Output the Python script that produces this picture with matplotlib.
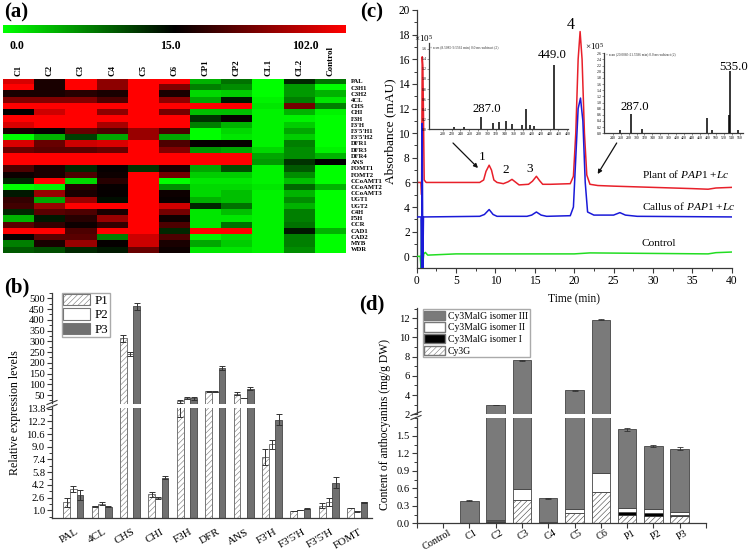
import matplotlib
matplotlib.use("Agg")
import matplotlib.pyplot as plt
from matplotlib.cm import ScalarMappable
from matplotlib.colors import LinearSegmentedColormap, Normalize
from matplotlib.lines import Line2D
from matplotlib.patches import FancyArrowPatch, Patch
from matplotlib.ticker import AutoMinorLocator, MultipleLocator
from matplotlib.transforms import ScaledTranslation

plt.rcParams["font.family"] = ["Liberation Serif", "DejaVu Serif"]
plt.rcParams["mathtext.fontset"] = "custom"
plt.rcParams["mathtext.it"] = "Liberation Serif:italic"
plt.rcParams["mathtext.rm"] = "Liberation Serif"
plt.rcParams["hatch.linewidth"] = 0.4
plt.rcParams["hatch.color"] = "#777777"

W, H = 750, 551
AXC = "#3a3a3a"

# (a) heatmap, -1 green .. 0 black .. 1 red
heat_cols = ["C1", "C2", "C3", "C4", "C5", "C6", "CP1", "CP2", "CL1", "CL2", "Control"]
heat_rows = ["PAL", "C3H1", "C3H2", "4CL", "CHS", "CHI", "F3H", "F3'H", "F3'5'H1", "F3'5'H2",
             "DFR1", "DFR3", "DFR4", "ANS", "FOMT1", "FOMT2", "CCoAMT1", "CCoAMT2", "CCoAMT3",
             "UGT1", "UGT2", "C4H", "F5H", "CCR", "CAD1", "CAD2", "MYB", "WDR"]
heat_vals = [
    [.85, .10, 1, .55, 1, 1, -.70, -.45, -1, -.15, -.45],
    [1, .10, 1, .55, 1, .50, -.50, -.55, -1, -.60, -1],
    [.10, .10, .15, .10, 1, .10, -.85, -.80, -1, -.60, -.70],
    [.50, .50, .50, .30, 1, .55, -.65, -.10, -.95, -.50, -.90],
    [1, 1, 1, 1, 1, 1, 1, 1, -.90, .45, -.50],
    [0, .80, 1, .55, 1, .45, -.75, -.75, -.95, -.70, -.95],
    [1, 1, 1, 1, 1, 1, -.20, .03, -.95, -.95, -1],
    [.85, 1, 1, .65, 1, 1, -.50, -.70, -.95, -.80, -1],
    [.10, .03, .40, .30, .60, .30, -1, -.85, -.95, -.65, -1],
    [-1, -.70, -.25, -.65, .60, -.65, -1, -.90, -.95, -.80, -1],
    [.85, .40, .80, .85, 1, .30, .02, .03, -.95, -.50, -1],
    [.40, .35, .35, .40, 1, .50, -.60, -.65, -.85, -.55, -.95],
    [1, 1, 1, 1, 1, 1, 1, 1, -.65, -.55, -.70],
    [1, 1, 1, 1, 1, 1, 1, 1, -.60, -.20, 0],
    [.30, .10, -.15, .03, -.20, .10, -.65, -.30, -.95, -.35, -1],
    [.05, .10, .30, .05, 1, .45, -.80, -.80, -.95, -.55, -1],
    [-.15, 1, -.85, .15, 1, -1, -.90, -.90, -.95, -.75, -1],
    [-1, -.95, .15, .03, 1, -.55, -.85, -.85, -.90, -.40, -.70],
    [-.10, .60, .10, .02, 1, .05, -.85, -.75, -.95, -.70, -1],
    [.20, -.65, .60, -.05, 1, .03, -.70, -.75, -.95, -.55, -1],
    [.25, .60, 1, 1, 1, .80, -.15, -.45, -.95, -.70, -1],
    [-.15, .35, .30, .10, 1, .45, -.90, -.75, -.95, -.50, -1],
    [-.70, -.10, .15, .60, 1, .05, -.90, -.90, -.95, -.50, -1],
    [.35, .20, .05, .20, 1, .30, -.90, -.45, -.95, -.45, -1],
    [1, 1, .30, 1, 1, -.15, 1, 1, -.95, -.10, -.70],
    [.03, .35, .35, -.50, .80, .30, -.95, -.85, -.95, -.50, -1],
    [-.50, .10, .60, .02, .80, .10, -.65, -.80, -.95, -.50, -1],
    [-.35, -.30, -.15, -.10, .40, .05, -.90, -.90, -.95, -.55, -1],
]
scale_labels = ["0.0", "15.0", "102.0"]

# (b) relative expression
genes = ["PAL", "4CL", "CHS", "CHI", "F3H", "DFR", "ANS", "F3'H", "F3'5'H", "F3'5'H", "FOMT"]
p1 = [2.0, 1.5, 313, 3.0, 20, 68, 56, 7.7, 0.9, 1.6, 1.3]
p2 = [3.7, 1.85, 240, 2.6, 35, 66, 36, 9.3, 1.05, 2.0, 0.85]
p3 = [2.9, 1.45, 463, 5.1, 36, 176, 80, 12.4, 1.2, 4.5, 2.0]
p1_err = [0.55, 0.08, 15, 0.35, 7.3, 2, 8, 1.0, 0.05, 0.3, 0.04]
p2_err = [0.4, 0.2, 10, 0.12, 4, 2, 2, 0.6, 0.03, 0.5, 0.05]
p3_err = [0.6, 0.08, 17, 0.2, 7, 10, 8, 0.7, 0.07, 0.7, 0.07]
b_low_ticks = [1.0, 2.6, 4.2, 5.8, 7.4, 9.0, 10.6, 12.2, 13.8]
b_high_ticks = [50, 100, 150, 200, 250, 300, 350, 400, 450, 500]
BREAK_B = 13.95

# (c) chromatograms
red_t = [0, .55, .62, .70, .78, .85, .95, 1.2, 4, 8, 8.5, 8.8, 9.2, 9.5, 9.8, 10.2, 11, 11.6, 12.1,
         12.6, 13, 14.2, 14.7, 15.2, 15.6, 16, 17, 19.5, 19.9, 20.2, 20.5, 20.75, 21, 21.3, 21.6,
         22, 23, 25, 30, 35, 37, 38, 40]
red_y = [6, 6, 5, 16.2, 15.5, 12, 6.2, 6, 6, 6, 6.2, 6.9, 7.4, 7.0, 6.2, 6, 5.9, 6.05, 6.25,
         6, 5.8, 5.85, 6.1, 6.5, 6.15, 5.85, 5.85, 5.9, 6.5, 10, 16, 18.25, 16, 10, 6.6,
         5.85, 5.75, 5.7, 5.6, 5.5, 5.45, 5.55, 5.6]
blue_t = [0, .55, .62, .70, .78, .86, 1, 8, 8.6, 9.2, 9.7, 10.2, 14, 14.6, 15.2, 15.8, 16.5, 19.5,
          19.9, 20.2, 20.5, 20.8, 21.1, 21.4, 21.7, 22.5, 25, 25.8, 26.5, 28, 40]
blue_y = [3.2, 3.2, -1, 10.8, -1, 3.2, 3.2, 3.25, 3.4, 3.8, 3.4, 3.25, 3.25, 3.35, 3.6, 3.35, 3.25, 3.3,
          4, 8, 12, 12.85, 11, 6, 3.6, 3.35, 3.35, 3.55, 3.35, 3.25, 3.2]
green_t = [0, .45, .55, .62, .70, .9, 1.1, 1.4, 5, 20, 22, 37, 38, 40]
green_y = [0, 0, -1, 3, -1, .2, .32, .1, .2, .2, .28, .2, .3, .35]

# (c) mass spectra insets
ms1_mz = [226, 247, 287, 314, 326, 343, 355, 378, 387, 396, 406, 449]
ms1_int = [.04, .04, .237, .125, .14, .17, .105, .085, .395, .085, .065, 1.27]
ms1_ticks = [200, 220, 240, 260, 280, 300, 320, 340, 360, 380, 400, 420, 440, 460, 480]
ms2_mz = [258.5, 287, 314.7, 478, 489, 533, 535, 555]
ms2_int = [.1, .62, .15, .49, .12, .6, 2.04, .12]
ms2_ticks = [240, 260, 280, 300, 320, 340, 360, 380, 400, 420, 440, 460, 480, 500, 520, 540, 560]

# (d) anthocyanin content
samples = ["Control", "C1", "C2", "C3", "C4", "C5", "C6", "P1", "P2", "P3"]
cy3g = [0, 0, .03, .40, .01, .17, .53, .14, .125, .125]
iso1 = [0, 0, .005, 0, .005, 0, 0, .05, .055, .02]
iso2 = [0, 0, .03, .195, 0, .08, .33, .065, .06, .055]
iso3 = [0, .39, 2.875, 7.005, .415, 4.25, 10.99, 1.355, 1.09, 1.08]
total_err = [0, .005, .02, .03, .005, .03, .05, .02, .02, .02]


def px_axes(left, top, right, bottom):
    """Axes placed by pixel edges measured from the top left of the picture."""
    return fig.add_axes([left / W, 1 - bottom / H, (right - left) / W, (bottom - top) / H])


def px_text(x, y, s, **kw):
    kw.setdefault("ha", "center")
    kw.setdefault("va", "center")
    return fig.text(x / W, 1 - y / H, s, **kw)


def px_line(x0, y0, x1, y1, **kw):
    fig.add_artist(Line2D([x0 / W, x1 / W], [1 - y0 / H, 1 - y1 / H], **kw))


def nudge_xlabels(ax, dx_px):
    # rotated labels sit a little right of their ticks in the original
    shift = ScaledTranslation(dx_px / 100, 0, fig.dpi_scale_trans)
    for lab in ax.get_xticklabels():
        lab.set_transform(lab.get_transform() + shift)


def style_axis(ax, left=True, bottom=True):
    for side in ["top", "right"]:
        ax.spines[side].set_visible(False)
    ax.spines["left"].set_visible(left)
    ax.spines["bottom"].set_visible(bottom)
    for side in ["left", "bottom"]:
        ax.spines[side].set_color(AXC)
        ax.spines[side].set_linewidth(0.9)
    ax.patch.set_alpha(0)
    ax.tick_params(which="major", length=3.5, width=0.8, color=AXC, labelsize=7.6, pad=1.5)
    ax.tick_params(which="minor", length=2, width=0.7, color=AXC)


fig = plt.figure(figsize=(W / 100, H / 100), dpi=100)

for (x, y, s) in [(16, 12, "(a)"), (17, 287, "(b)"), (372, 12, "(c)"), (372, 304, "(d)")]:
    px_text(x, y, s, fontsize=15, fontweight="bold")

# ---- (a)
gr = LinearSegmentedColormap.from_list("gr", ["#00ff00", "#000000", "#ff0000"])
norm = Normalize(-1, 1)
cax = px_axes(3, 24.5, 346, 33)
cb = fig.colorbar(ScalarMappable(norm=norm, cmap=gr), cax=cax, orientation="horizontal")
cb.set_ticks([])
cb.outline.set_visible(False)
for x, s in zip([16.7, 170, 305], scale_labels):
    px_text(x, 46, s, fontsize=8.6, fontweight="bold")

ax = px_axes(3, 78.7, 346, 252.8)
ax.imshow(heat_vals, cmap=gr, norm=norm, aspect="auto", interpolation="nearest")
ax.axis("off")
col_w = 343 / len(heat_cols)
row_h = 174.1 / len(heat_rows)
for i, s in enumerate(heat_cols):
    px_text(3 + col_w * (i + .5), 76.5, s, rotation=90, va="bottom", fontweight="bold", fontsize=6.5)
for i, s in enumerate(heat_rows):
    px_text(350.5, 78.7 + row_h * (i + .5), s, ha="left", fontweight="bold", fontsize=4.8)

# ---- (b)
x_pos = list(range(len(genes)))
ax_hi = px_axes(52, 292.7, 372, 403.5)
ax_lo = px_axes(52, 407.5, 372, 517.6)
bar_w = .235
err_kw = dict(elinewidth=.7, capsize=2.2, capthick=.7, ecolor="#333333")
bar_styles = [
    (p1, p1_err, -bar_w, dict(facecolor="white", edgecolor="#777777", hatch="//////")),
    (p2, p2_err, 0, dict(facecolor="white", edgecolor="#777777")),
    (p3, p3_err, bar_w, dict(facecolor="#707070", edgecolor="#555555")),
]
for vals, errs, off, style in bar_styles:
    xs = [p + off for p in x_pos]
    ax_lo.bar(xs, vals, bar_w, yerr=errs, linewidth=.7, error_kw=err_kw, **style)
    # only the tall bars go on through the axis break
    tall = [i for i, v in enumerate(vals) if v > BREAK_B]
    ax_hi.bar([xs[i] for i in tall], [vals[i] for i in tall], bar_w,
              yerr=[errs[i] for i in tall], linewidth=.7, error_kw=err_kw, **style)
for a in [ax_hi, ax_lo]:
    a.set_xlim(-.75, 10.52)
style_axis(ax_hi, bottom=False)
style_axis(ax_lo)
ax_hi.set_ylim(10.5, 526)
ax_lo.set_ylim(.08, BREAK_B)
ax_hi.set_xticks([])
ax_hi.set_yticks(b_high_ticks)
ax_hi.yaxis.set_minor_locator(AutoMinorLocator(2))
ax_lo.set_yticks(b_low_ticks, [f"{t:.1f}" for t in b_low_ticks])
ax_lo.yaxis.set_minor_locator(AutoMinorLocator(2))
ax_lo.set_xticks(x_pos, genes, rotation=30, ha="right", rotation_mode="anchor", fontsize=8)
ax_lo.tick_params(axis="x", length=0, pad=7)
nudge_xlabels(ax_lo, 2)
for y in [403, 407]:
    px_line(47, y + 1.5, 57, y - 2.5, color=AXC, lw=.8)
px_text(15, 413, "Relative expression levels", rotation=90, fontsize=8.6)
ax_hi.legend(handles=[Patch(facecolor=s[3]["facecolor"], edgecolor="#777777",
                            hatch=s[3].get("hatch"), label=n, linewidth=.8)
                      for s, n in zip(bar_styles, ["P1", "P2", "P3"])],
             loc="upper left", bbox_to_anchor=(62 / W, 1 - 292.5 / H), bbox_transform=fig.transFigure,
             fontsize=9.3, handlelength=2.05, handleheight=1.0, labelspacing=.1, handletextpad=.4,
             borderpad=.1, borderaxespad=0, fancybox=False, edgecolor="#aaaaaa", framealpha=1)

# ---- (c)
ax = px_axes(416.7, 10, 731.7, 268.3)
ax.plot(red_t, red_y, color="#e8202a", lw=1.1, zorder=2)
ax.plot(green_t, green_y, color="#22dd22", lw=1.1, zorder=3)
ax.plot(blue_t, blue_y, color="#1a1ad8", lw=1.1, zorder=4)
ax.set_xlim(0, 40)
ax.set_ylim(-.97, 20)
style_axis(ax)
ax.xaxis.set_major_locator(MultipleLocator(5))
ax.xaxis.set_minor_locator(AutoMinorLocator(2))
ax.yaxis.set_major_locator(MultipleLocator(2))
ax.yaxis.set_minor_locator(AutoMinorLocator(2))
ax.tick_params(axis="both", which="major", labelsize=8.3)
px_text(390, 131, "Absorbance (mAU)", rotation=90, fontsize=9.6)
px_text(574, 299, "Time (min)", fontsize=8.3)
for x, y, s, fs in [(481.7, 156.7, "1", 9.5), (506, 170, "2", 9.5), (530, 169, "3", 9.5), (570.7, 25, "4", 11.5)]:
    px_text(x, y, s, fontsize=fs)
px_text(641.7, 174, r"Plant of $\mathit{PAP1}$ +$\mathit{Lc}$", ha="left", fontsize=8.2)
px_text(641.7, 205.7, r"Callus of $\mathit{PAP1}$ +$\mathit{Lc}$", ha="left", fontsize=8.2)
px_text(641.7, 243, "Control", ha="left", fontsize=8.2)
for start, end in [((453, 143), (478, 168)), ((616.7, 143), (597.7, 174))]:
    fig.add_artist(FancyArrowPatch(
        (start[0] / W, 1 - start[1] / H), (end[0] / W, 1 - end[1] / H),
        transform=fig.transFigure, arrowstyle="-|>", mutation_scale=6, lw=.9, color="#111111",
        shrinkA=0, shrinkB=0))

ins1 = px_axes(429.3, 42.7, 568.3, 129.3)
ins1.vlines(ms1_mz, 0, ms1_int, color="black", lw=1.1)
ins1.set_xlim(170, 482)
ins1.set_ylim(0, 1.72)
ins1.set_xticks(ms1_ticks, [str(t) for t in ms1_ticks])
ins1.yaxis.set_major_locator(MultipleLocator(.2))
ins2 = px_axes(604.3, 53.3, 743, 133.3)
ins2.vlines(ms2_mz, 0, ms2_int, color="black", lw=1.1)
ins2.set_xlim(219, 567.6)
ins2.set_ylim(0, 2.6)
ins2.set_xticks(ms2_ticks, [str(t) for t in ms2_ticks])
ins2.yaxis.set_major_locator(MultipleLocator(.2))
for a in [ins1, ins2]:
    style_axis(a)
    a.tick_params(which="major", length=1.2, width=.4, labelsize=2.8, pad=.6)
px_text(464.5, 46.7, "+ scan (8.5085-9.5561 min) 0.0 ms-subtract (2)", fontsize=2.6, color="#333333")
px_text(641, 54.3, "+ scan (20.0085-21.5586 min) 0.0 ms-subtract (2)", fontsize=2.5, color="#333333")
px_text(424, 39, r"$\times$10$^5$", fontsize=6.5)
px_text(604, 47, r"$\times$10$^5$", fontsize=6.5, ha="right")
px_text(551.7, 55, "449.0", fontsize=9.2)
px_text(486.7, 109, "287.0", fontsize=9.2)
px_text(734, 66.7, "535.0", fontsize=9.2)
px_text(635, 106.7, "287.0", fontsize=9.2)

# ---- (d)
ax_hi = px_axes(416.7, 308, 706, 414.3)
ax_lo = px_axes(416.7, 418.3, 706, 523.3)
x_pos = list(range(len(samples)))
b1 = cy3g
b2 = [a + b for a, b in zip(b1, iso1)]
b3 = [a + b for a, b in zip(b2, iso2)]
for a in [ax_hi, ax_lo]:
    edge = dict(edgecolor="#444444", linewidth=.6)
    a.bar(x_pos, cy3g, .7, facecolor="white", hatch="//////", **edge)
    a.bar(x_pos, iso1, .7, bottom=b1, facecolor="black", **edge)
    a.bar(x_pos, iso2, .7, bottom=b2, facecolor="white", **edge)
    a.bar(x_pos, iso3, .7, bottom=b3, facecolor="#7a7a7a", yerr=total_err,
          error_kw=dict(elinewidth=.6, capsize=2.2, capthick=.6, ecolor="#333333"), **edge)
    a.set_xlim(-1, 10)
style_axis(ax_hi, bottom=False)
style_axis(ax_lo)
ax_hi.set_ylim(2, 13.06)
ax_lo.set_ylim(0, 1.8)
ax_hi.set_xticks([])
ax_hi.yaxis.set_major_locator(MultipleLocator(2))
ax_hi.yaxis.set_minor_locator(AutoMinorLocator(2))
ax_lo.set_yticks([0, .3, .6, .9, 1.2, 1.5], ["0.0", "0.3", "0.6", "0.9", "1.2", "1.5"])
ax_lo.yaxis.set_minor_locator(AutoMinorLocator(2))
ax_lo.set_xticks([-1] + x_pos + [10], [""] + samples + [""], rotation=30, ha="right",
                 rotation_mode="anchor", fontsize=7.4)
ax_lo.tick_params(axis="x", pad=0)
nudge_xlabels(ax_lo, 5)
for y in [414, 418]:
    px_line(411, y + 1.5, 421, y - 2.5, color=AXC, lw=.8)
px_text(385, 424, "Content of anthocyanins (mg/g DW)", rotation=90, fontsize=8.4)
ax_hi.legend(handles=[
    Patch(facecolor="#7a7a7a", edgecolor="#777777", label="Cy3MalG isomer III"),
    Patch(facecolor="white", edgecolor="#777777", label="Cy3MalG isomer II"),
    Patch(facecolor="black", edgecolor="#777777", label="Cy3MalG isomer I"),
    Patch(facecolor="white", edgecolor="#777777", hatch="//////", label="Cy3G")],
    loc="upper left", bbox_to_anchor=(422.7 / W, 1 - 309.3 / H), bbox_transform=fig.transFigure,
    fontsize=7.0, handlelength=2.15, handleheight=1.1, labelspacing=.17, handletextpad=.3,
    borderpad=.15, borderaxespad=0, fancybox=False, edgecolor="#aaaaaa", framealpha=1)

fig.savefig("out.png", dpi=100)
